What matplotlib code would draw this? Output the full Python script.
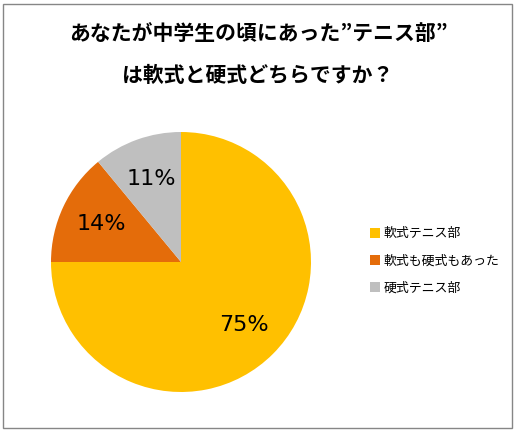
import matplotlib
matplotlib.use("Agg")
import matplotlib.pyplot as plt
from matplotlib.patches import Rectangle

plt.rcParams['font.family'] = ['Noto Sans CJK JP', 'DejaVu Sans']

title_line1 = "あなたが中学生の頃にあった”テニス部”"
title_line2 = "は軟式と硬式どちらですか？"
labels = ["軟式テニス部", "軟式も硬式もあった", "硬式テニス部"]
shares = [75, 14, 11]
colors = ["#FFC000", "#E46C0A", "#BFBFBF"]

W, H = 529, 436
fig = plt.figure(figsize=(W / 100, H / 100), dpi=100)

# chart border (excel style)
fig.patches.append(Rectangle((3 / W, 1 - 428 / H), 509 / W, 424 / H,
                             transform=fig.transFigure, fill=False,
                             edgecolor="#868686", linewidth=1.0))

fig.text(258 / W, 1 - 34 / H, title_line1, ha="center", va="center",
         fontsize=15, fontweight="bold")
fig.text(258 / W, 1 - 75 / H, title_line2, ha="center", va="center",
         fontsize=15, fontweight="bold")

cx, cy, r = 181, 262, 130
ax = fig.add_axes([(cx - r) / W, (H - cy - r) / H, 2 * r / W, 2 * r / H])
wedges, texts, autotexts = ax.pie(shares, colors=colors, startangle=90,
                                  counterclock=False, radius=1,
                                  autopct=lambda p: "%d%%" % round(p),
                                  pctdistance=0.68,
                                  textprops=dict(fontsize=16, family="DejaVu Sans"))
ax.set_xlim(-1, 1)
ax.set_ylim(-1, 1)
ax.set_aspect("equal")

fig.legend(wedges, labels, loc="center left",
           bbox_to_anchor=(358 / W, 1 - 261 / H), frameon=False,
           fontsize=9.3, handlelength=0.8, handleheight=0.8,
           handletextpad=0.3, labelspacing=1.1)

fig.savefig("out.png", dpi=100)
